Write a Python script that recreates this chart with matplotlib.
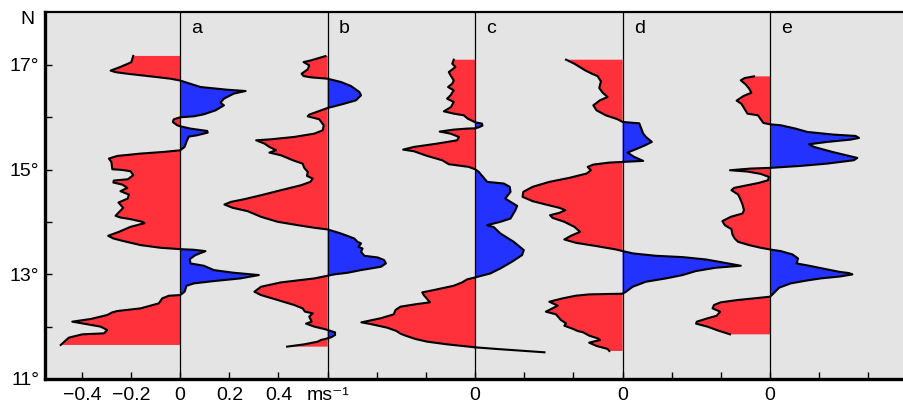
import matplotlib
matplotlib.use("Agg")
import matplotlib.pyplot as plt
import numpy as np

plt.rcParams['font.family'] = ['Liberation Sans', 'DejaVu Sans']

# ---------------- data (latitude in deg N, velocity in m/s) ----------------
a_lat = [17.17, 17.05, 16.96, 16.89, 16.86, 16.83, 16.78, 16.735, 16.70, 16.576, 16.525, 16.50, 16.45,
         16.354, 16.278, 16.227, 16.131, 16.055, 16.017, 15.998, 15.96, 15.909, 15.845, 15.826, 15.782,
         15.737, 15.705, 15.655, 15.629, 15.559, 15.432, 15.368, 15.337, 15.305, 15.26, 15.21, 15.146,
         15.006, 14.993, 14.968, 14.892, 14.815, 14.79, 14.752, 14.714, 14.65, 14.587, 14.523, 14.447,
         14.37, 14.269, 14.116, 14.084, 14.053, 14.002, 13.976, 13.906, 13.811, 13.735, 13.684, 13.64,
         13.557, 13.506, 13.48, 13.468, 13.442, 13.366, 13.29, 13.207, 13.163, 13.08, 13.029, 12.985,
         12.921, 12.87, 12.826, 12.781, 12.667, 12.603, 12.59, 12.54, 12.444, 12.349, 12.298, 12.273,
         12.222, 12.146, 12.095, 12.057, 12.0, 11.936, 11.872, 11.853, 11.79, 11.65]
a_val = [-0.191, -0.199, -0.243, -0.283, -0.263, -0.215, -0.121, -0.039, 0.0, 0.083, 0.191, 0.266, 0.218,
         0.178, 0.164, 0.178, 0.144, 0.096, 0.056, 0.0, -0.026, -0.030, -0.012, 0.0, 0.042,
         0.110, 0.112, 0.069, 0.035, 0.028, 0.018, 0.0, -0.066, -0.161, -0.256, -0.290, -0.280,
         -0.276, -0.236, -0.202, -0.191, -0.213, -0.270, -0.272, -0.236, -0.215, -0.243, -0.209, -0.213,
         -0.251, -0.232, -0.263, -0.243, -0.202, -0.154, -0.145, -0.202, -0.249, -0.293, -0.272, -0.236,
         -0.161, -0.080, 0.0, 0.056, 0.103, 0.062, 0.039, 0.042, 0.096, 0.137, 0.218, 0.320,
         0.245, 0.137, 0.056, 0.026, 0.018, 0.0, -0.046, -0.073, -0.087, -0.161, -0.256, -0.276,
         -0.297, -0.364, -0.439, -0.392, -0.324, -0.297, -0.310, -0.398, -0.453, -0.486]

b_lat = [17.167, 17.085, 17.053, 16.99, 16.913, 16.831, 16.786, 16.761, 16.735, 16.672, 16.595, 16.481,
         16.418, 16.322, 16.259, 16.208, 16.176, 16.131, 16.049, 16.017, 15.96, 15.845, 15.75, 15.686,
         15.623, 15.578, 15.559, 15.496, 15.432, 15.369, 15.324, 15.273, 15.178, 15.114, 15.032, 14.955,
         14.879, 14.828, 14.765, 14.701, 14.606, 14.51, 14.434, 14.383, 14.332, 14.269, 14.205, 14.097,
         14.002, 13.938, 13.888, 13.856, 13.779, 13.684, 13.62, 13.589, 13.525, 13.493, 13.43, 13.353,
         13.322, 13.271, 13.207, 13.144, 13.08, 13.029, 12.998, 12.972, 12.921, 12.845, 12.762, 12.667,
         12.603, 12.508, 12.413, 12.349, 12.286, 12.254, 12.19, 12.095, 12.057, 12.0, 11.955, 11.936,
         11.891, 11.84, 11.796, 11.777, 11.745, 11.713, 11.662, 11.618]
b_val = [-0.009, -0.068, -0.098, -0.075, -0.081, -0.106, -0.098, -0.068, 0.0, 0.054, 0.095, 0.129,
         0.136, 0.115, 0.068, 0.027, 0.0, -0.027, -0.075, -0.081, -0.034, -0.016, -0.020, -0.054,
         -0.136, -0.230, -0.291, -0.257, -0.237, -0.210, -0.237, -0.190, -0.142, -0.102, -0.095, -0.081,
         -0.084, -0.061, -0.070, -0.108, -0.190, -0.271, -0.339, -0.393, -0.420, -0.386, -0.325, -0.271,
         -0.203, -0.122, -0.054, 0.0, 0.054, 0.108, 0.122, 0.136, 0.125, 0.142, 0.136, 0.149,
         0.203, 0.230, 0.237, 0.217, 0.136, 0.081, 0.027, 0.0, -0.054, -0.190, -0.271, -0.298,
         -0.271, -0.203, -0.136, -0.102, -0.092, -0.061, -0.075, -0.065, -0.088, -0.054, -0.014, 0.0,
         0.030, 0.030, 0.014, 0.0, -0.027, -0.041, -0.095, -0.165]

c_lat = [17.098, 17.021, 16.958, 16.862, 16.799, 16.704, 16.64, 16.576, 16.513, 16.418, 16.354, 16.29,
         16.195, 16.112, 16.068, 16.036, 15.972, 15.922, 15.903, 15.877, 15.839, 15.807, 15.788, 15.782,
         15.763, 15.725, 15.686, 15.623, 15.559, 15.496, 15.432, 15.381, 15.35, 15.26, 15.178, 15.102,
         15.051, 15.006, 14.955, 14.765, 14.733, 14.67, 14.574, 14.447, 14.383, 14.307, 14.224, 14.065,
         14.002, 13.938, 13.9, 13.779, 13.62, 13.462, 13.366, 13.239, 13.112, 13.016, 12.94, 12.902,
         12.845, 12.781, 12.699, 12.654, 12.603, 12.527, 12.464, 12.432, 12.381, 12.318, 12.235, 12.159,
         12.082, 12.05, 11.98, 11.917, 11.866, 11.828, 11.764, 11.713, 11.662, 11.605]
c_val = [-0.087, -0.093, -0.080, -0.107, -0.100, -0.087, -0.093, -0.110, -0.087, -0.100, -0.114, -0.087,
         -0.098, -0.127, -0.087, -0.046, -0.030, -0.008, 0.0, 0.028, 0.030, 0.015, 0.0, -0.033,
         -0.087, -0.144, -0.100, -0.066, -0.073, -0.154, -0.249, -0.293, -0.249, -0.195, -0.134, -0.107,
         -0.026, 0.0, 0.015, 0.049, 0.117, 0.141, 0.144, 0.123, 0.144, 0.171, 0.164, 0.144,
         0.103, 0.049, 0.076, 0.103, 0.157, 0.198, 0.191, 0.150, 0.103, 0.062, 0.0, -0.033,
         -0.053, -0.087, -0.168, -0.215, -0.209, -0.195, -0.184, -0.236, -0.304, -0.324, -0.331, -0.385,
         -0.463, -0.425, -0.358, -0.320, -0.304, -0.283, -0.243, -0.195, -0.114, 0.0]
c_tail_lat = [11.605, 11.573, 11.542, 11.51]
c_tail_val = [0.0, 0.089, 0.184, 0.282]

d_lat = [17.098, 17.021, 16.894, 16.831, 16.786, 16.685, 16.557, 16.468, 16.386, 16.322, 16.227, 16.131,
         16.036, 15.96, 15.909, 15.883, 15.795, 15.686, 15.623, 15.528, 15.464, 15.388, 15.324, 15.242,
         15.165, 15.146, 15.133, 15.095, 15.051, 14.987, 14.924, 14.841, 14.765, 14.67, 14.574, 14.479,
         14.396, 14.332, 14.269, 14.224, 14.173, 14.129, 14.078, 14.002, 13.906, 13.811, 13.735, 13.665,
         13.601, 13.538, 13.474, 13.443, 13.398, 13.353, 13.328, 13.283, 13.226, 13.163, 13.125, 13.061,
         12.985, 12.921, 12.858, 12.762, 12.667, 12.629, 12.616, 12.591, 12.54, 12.476, 12.4, 12.286,
         12.235, 12.127, 12.063, 12.018, 11.955, 11.917, 11.891, 11.828, 11.777, 11.745, 11.694, 11.631,
         11.574, 11.535]
d_val = [-0.230, -0.196, -0.152, -0.125, -0.102, -0.088, -0.095, -0.081, -0.061, -0.092, -0.119, -0.106,
         -0.068, -0.020, 0.0, 0.068, 0.075, 0.084, 0.095, 0.119, 0.092, 0.054, 0.020, 0.047,
         0.084, 0.0, -0.054, -0.119, -0.142, -0.129, -0.146, -0.217, -0.298, -0.366, -0.404, -0.407,
         -0.366, -0.312, -0.257, -0.233, -0.257, -0.295, -0.285, -0.237, -0.196, -0.173, -0.210, -0.237,
         -0.190, -0.106, -0.027, 0.0, 0.043, 0.136, 0.244, 0.339, 0.407, 0.481, 0.379, 0.298,
         0.244, 0.176, 0.095, 0.041, 0.014, 0.0, -0.136, -0.190, -0.244, -0.298, -0.264, -0.312,
         -0.271, -0.251, -0.230, -0.237, -0.201, -0.183, -0.160, -0.136, -0.102, -0.092, -0.136, -0.106,
         -0.061, -0.054]

e_lat = [16.78, 16.748, 16.704, 16.621, 16.545, 16.468, 16.405, 16.316, 16.259, 16.176, 16.068, 16.036,
         15.96, 15.89, 15.864, 15.846, 15.782, 15.718, 15.667, 15.642, 15.604, 15.572, 15.528, 15.483,
         15.432, 15.337, 15.222, 15.178, 15.114, 15.07, 15.032, 15.019, 14.987, 14.962, 14.917, 14.86,
         14.796, 14.746, 14.65, 14.606, 14.523, 14.447, 14.332, 14.224, 14.161, 14.097, 14.015, 13.938,
         13.862, 13.76, 13.684, 13.62, 13.557, 13.506, 13.474, 13.443, 13.379, 13.302, 13.207, 13.163,
         13.099, 13.048, 13.023, 12.998, 12.959, 12.921, 12.883, 12.826, 12.744, 12.635, 12.572, 12.54,
         12.508, 12.464, 12.413, 12.349, 12.286, 12.209, 12.158, 12.095, 12.057, 12.0, 11.93, 11.853]
e_val = [-0.065, -0.103, -0.119, -0.098, -0.085, -0.076, -0.108, -0.136, -0.117, -0.106, -0.092, -0.049,
         -0.038, -0.027, 0.0, 0.043, 0.104, 0.152, 0.260, 0.348, 0.362, 0.328, 0.233, 0.159,
         0.179, 0.253, 0.355, 0.341, 0.233, 0.125, 0.0, -0.079, -0.163, -0.092, -0.038, -0.005,
         -0.008, -0.045, -0.146, -0.157, -0.130, -0.122, -0.112, -0.106, -0.112, -0.160, -0.194, -0.184,
         -0.157, -0.153, -0.144, -0.130, -0.085, -0.038, 0.0, 0.043, 0.091, 0.114, 0.108, 0.159,
         0.226, 0.280, 0.321, 0.335, 0.287, 0.206, 0.152, 0.084, 0.037, 0.014, 0.0, -0.065,
         -0.133, -0.201, -0.228, -0.234, -0.203, -0.217, -0.255, -0.298, -0.301, -0.255, -0.214, -0.163]

panel_names = ['a', 'b', 'c', 'd', 'e']
panel_offsets = [0.0, 0.6, 1.2, 1.8, 2.4]

x_ticks = [-0.4, -0.2, 0.0, 0.2, 0.4, 0.6, 0.8, 1.0, 1.2, 1.4, 1.6, 1.8, 2.0, 2.2, 2.4, 2.6, 2.8]
x_tick_labels = ['\u22120.4', '\u22120.2', '0', '0.2', '0.4', 'ms\u207b\u00b9', '', '', '0',
                 '', '', '0', '', '', '0', '', '']
y_ticks = [11, 12, 13, 14, 15, 16, 17]
y_tick_labels = ['11\u00b0', '', '13\u00b0', '', '15\u00b0', '', '17\u00b0']

# ---------------- drawing ----------------
RED = '#ff323c'
BLUE = '#2332ff'
BG = '#e4e4e4'

fig = plt.figure(figsize=(9.04, 4.05), dpi=100)
ax = fig.add_axes([45 / 904, 0.0642, 1 - 45 / 904, 0.905])
ax.set_facecolor(BG)

profiles = [(a_lat, a_val), (b_lat, b_val), (c_lat, c_val), (d_lat, d_val), (e_lat, e_val)]
for (lat, val), off, name in zip(profiles, panel_offsets, panel_names):
    lat = np.asarray(lat)
    val = np.asarray(val)
    ax.fill_betweenx(lat, off + val, off, where=val <= 0, interpolate=True,
                     facecolor=RED, linewidth=0, zorder=2)
    ax.fill_betweenx(lat, off + val, off, where=val >= 0, interpolate=True,
                     facecolor=BLUE, linewidth=0, zorder=2)
    ax.plot(off + val, lat, color='black', lw=1.5, zorder=4, solid_joinstyle='round')
    ax.axvline(off, color='black', lw=0.9, zorder=3)
    ax.text(off + 0.045, 17.69, name, fontsize=14, ha='left', va='center', zorder=5)

ax.plot(panel_offsets[2] + np.asarray(c_tail_val), c_tail_lat, color='black', lw=1.5, zorder=4)

ax.set_xlim(-0.55, 2.945)
ax.set_ylim(11, 18)

ax.set_xticks(x_ticks)
ax.set_xticklabels(x_tick_labels)
ax.set_yticks(y_ticks)
ax.set_yticklabels(y_tick_labels)
ax.tick_params(axis='both', direction='in', length=5, width=1, labelsize=14, color='black')
ax.tick_params(axis='x', pad=6)
ax.tick_params(axis='y', pad=4)

ax.spines['right'].set_visible(False)
ax.spines['top'].set_linewidth(1.6)
ax.spines['left'].set_linewidth(2.4)
ax.spines['bottom'].set_linewidth(2.4)

fig.text(27 / 904, 1 - 20 / 405, 'N', fontsize=14, ha='center', va='center')

fig.savefig('out.png', dpi=100)
